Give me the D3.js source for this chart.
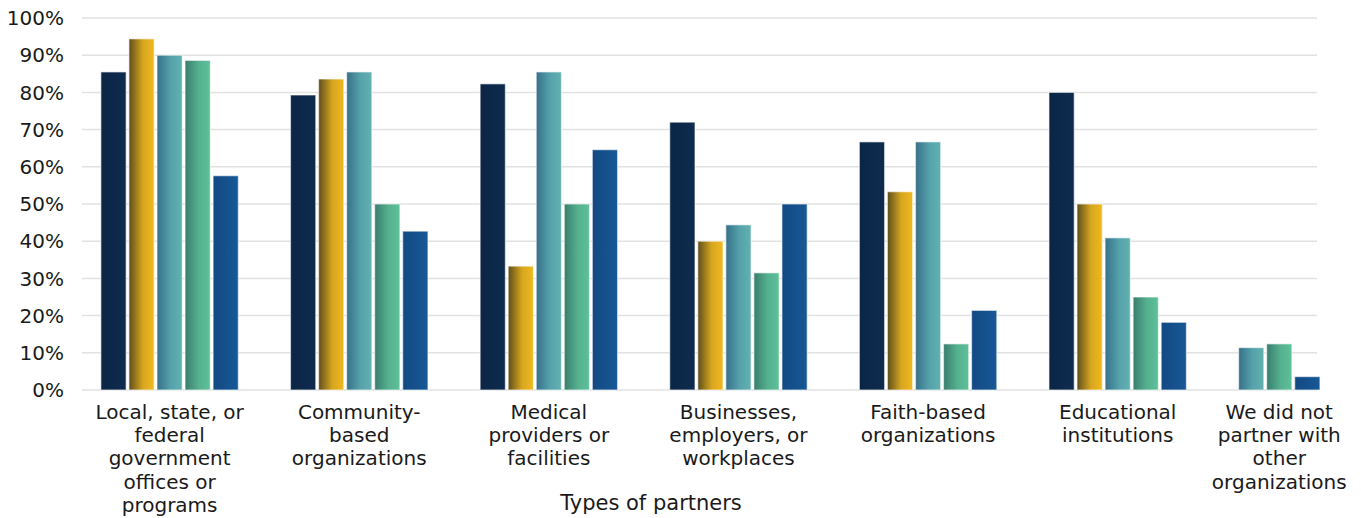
<!DOCTYPE html>
<html>
<head>
<meta charset="utf-8">
<script src="https://cdn.jsdelivr.net/npm/d3@7"></script>
<style>
  body { margin: 0; background: #fff; }
  text { font-family: "DejaVu Sans", sans-serif; fill: #1a1a1a; }
</style>
</head>
<body>
<script>
// categories (label lines) and values per series, null = no bar
const categories = [
  ["Local, state, or", "federal", "government", "offices or", "programs"],
  ["Community-", "based", "organizations"],
  ["Medical", "providers or", "facilities"],
  ["Businesses,", "employers, or", "workplaces"],
  ["Faith-based", "organizations"],
  ["Educational", "institutions"],
  ["We did not", "partner with", "other", "organizations"]
];
const series1 = [85.5, 79.3, 82.3, 72.0, 66.7, 80.0, null];
const series2 = [94.4, 83.6, 33.3, 40.0, 53.3, 50.0, null];
const series3 = [90.0, 85.5, 85.5, 44.4, 66.7, 40.9, 11.4];
const series4 = [88.6, 50.0, 50.0, 31.5, 12.4, 25.0, 12.4];
const series5 = [57.6, 42.7, 64.6, 50.0, 21.4, 18.2, 3.6];
const yTicks = [0, 10, 20, 30, 40, 50, 60, 70, 80, 90, 100];
const xTitle = "Types of partners";

const allSeries = [series1, series2, series3, series4, series5];

const width = 1361, height = 518;
const svg = d3.select("body").append("svg")
  .attr("width", width).attr("height", height);

// gradients, dark on the left of each bar
const grads = [
  ["#0b2545", "#0e2b4e"],
  ["#5e4e1c", "#d7a61f", "#f1b91f"],
  ["#377089", "#55a2ab", "#62b1b0"],
  ["#397d6e", "#55b18f", "#5ec099"],
  ["#124983", "#175896"]
];
const defs = svg.append("defs");
grads.forEach((stops, i) => {
  const g = defs.append("linearGradient").attr("id", "g" + i)
    .attr("x1", "0%").attr("x2", "100%").attr("y1", "0%").attr("y2", "0%");
  stops.forEach((c, j) => {
    g.append("stop")
      .attr("offset", (stops.length === 2 ? j * 100 : [0, 55, 100][j]) + "%")
      .attr("stop-color", c);
  });
});

const y = d3.scaleLinear().domain([0, 100]).range([390, 18]);

// horizontal layout: each group takes as many slots as it has bars plus a gap
const gapUnits = 1.76;
const counts = categories.map((c, i) => allSeries.filter(s => s[i] != null).length);
const offsets = [];
let acc = 0;
counts.forEach(n => { offsets.push(acc); acc += n + gapUnits; });
const unitPx = 28.05;
const x = d3.scaleLinear().domain([0, acc]).range([76.2, 76.2 + acc * unitPx]);

// gridlines
svg.append("g").selectAll("line").data(yTicks).join("line")
  .attr("x1", 82).attr("x2", 1317)
  .attr("y1", d => y(d)).attr("y2", d => y(d))
  .attr("stroke", "#e2e2e2").attr("stroke-width", 1.5);

// y labels
svg.append("g").selectAll("text").data(yTicks).join("text")
  .attr("x", 64).attr("y", d => y(d)).attr("dy", "0.36em")
  .attr("text-anchor", "end").attr("font-size", 20)
  .text(d => d + "%");

// bars
const bars = [];
categories.forEach((c, i) => {
  let k = 0;
  allSeries.forEach((s, si) => {
    if (s[i] == null) return;
    bars.push({ cat: i, si, v: s[i], u: offsets[i] + gapUnits / 2 + k });
    k++;
  });
});
svg.append("g").selectAll("rect").data(bars).join("rect")
  .attr("x", d => x(d.u))
  .attr("width", x(0.9) - x(0))
  .attr("y", d => y(d.v))
  .attr("height", d => y(0) - y(d.v))
  .attr("fill", d => `url(#g${d.si})`)
  .attr("stroke", "rgba(255,255,255,0.55)")
  .attr("stroke-width", 1.2);

// category labels
const labels = svg.append("g").selectAll("text").data(categories).join("text")
  .attr("text-anchor", "middle").attr("font-size", 20)
  .attr("transform", (d, i) => `translate(${x(offsets[i] + gapUnits / 2 + (counts[i] - 0.1) / 2)},419)`);
labels.selectAll("tspan").data(d => d).join("tspan")
  .attr("x", 0).attr("y", (d, j) => j * 23.2)
  .text(d => d);

// axis title
svg.append("text")
  .attr("x", 651).attr("y", 510)
  .attr("text-anchor", "middle").attr("font-size", 21)
  .attr("fill", "#111")
  .text(xTitle);
</script>
</body>
</html>
